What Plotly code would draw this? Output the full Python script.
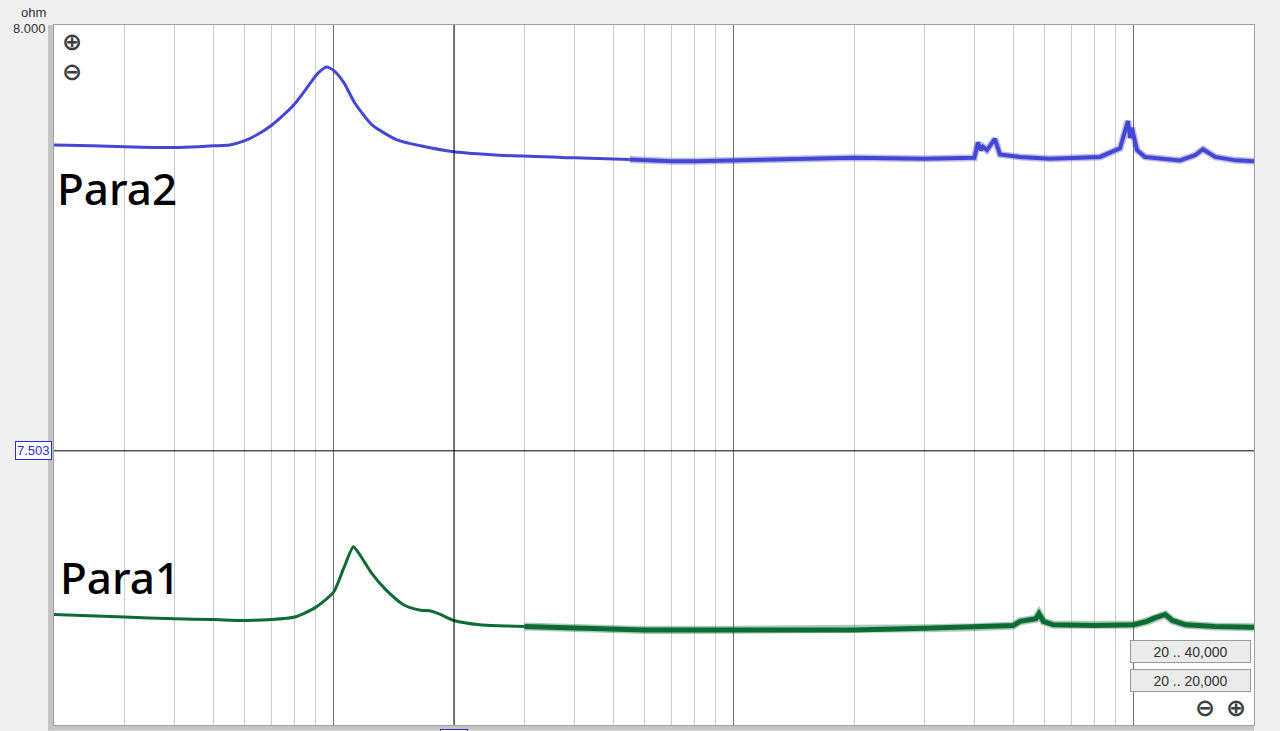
import math
import plotly.graph_objects as go

# ---------------- data ----------------
# Para2 (blue) smooth low-frequency part
para2_smooth_freq = [20, 25, 30, 40, 46, 50, 55, 60, 65, 70, 75, 80, 85, 90, 93, 96, 100,
                     106, 113, 125, 144, 165, 200, 260, 400, 550]
para2_smooth_ohm = [7.860, 7.859, 7.858, 7.857, 7.858, 7.859, 7.860, 7.865, 7.873, 7.883,
                    7.895, 7.908, 7.924, 7.940, 7.947, 7.951, 7.947, 7.933, 7.909, 7.883,
                    7.866, 7.859, 7.852, 7.848, 7.845, 7.843]
# Para2 noisy high-frequency part
para2_noisy_freq = [550, 600, 700, 800, 1000, 1500, 2000, 3000, 4000, 4083, 4150, 4200, 4300,
                    4500, 4634, 5200, 6180, 8240, 9250, 9680, 9800, 9900, 10200, 10680,
                    13060, 14240, 14910, 15990, 18000, 20000]
para2_noisy_ohm = [7.843, 7.842, 7.841, 7.841, 7.842, 7.843, 7.845, 7.844, 7.845, 7.863,
                   7.854, 7.858, 7.854, 7.867, 7.849, 7.846, 7.844, 7.846, 7.856, 7.888,
                   7.868, 7.880, 7.854, 7.846, 7.842, 7.848, 7.855, 7.846, 7.842, 7.841]

# Para1 (green) smooth low-frequency part
para1_smooth_freq = [20, 30, 40, 50, 60, 70, 80, 90, 100, 106, 112, 115, 125, 135, 150, 165,
                     175, 185, 200, 232, 300]
para1_smooth_ohm = [7.312, 7.309, 7.307, 7.306, 7.305, 7.306, 7.309, 7.320, 7.338, 7.366,
                    7.391, 7.385, 7.359, 7.341, 7.323, 7.317, 7.316, 7.312, 7.305, 7.300,
                    7.298]
# Para1 noisy high-frequency part
para1_noisy_freq = [300, 400, 600, 800, 1000, 2000, 3000, 4000, 5000, 5200, 5700, 5800, 5950,
                    6300, 8000, 10000, 10800, 11300, 12000, 12500, 13500, 16000, 20000]
para1_noisy_ohm = [7.298, 7.296, 7.294, 7.294, 7.294, 7.294, 7.296, 7.297, 7.299, 7.304,
                   7.307, 7.313, 7.304, 7.300, 7.299, 7.300, 7.304, 7.308, 7.312, 7.305,
                   7.300, 7.298, 7.297]

freq_range = [20, 20000]
ohm_range = [7.183, 8.000]
decade_ticks = [100, 1000, 10000]
minor_ticks = [30, 40, 50, 60, 70, 80, 90, 200, 300, 400, 500, 600, 700, 800, 900,
               2000, 3000, 4000, 5000, 6000, 7000, 8000, 9000]
cursor_freq = 200
cursor_ohm = 7.503
range_buttons = ["20 .. 40,000", "20 .. 20,000"]

BLUE = "#4646d4"
GREEN = "#0d6b36"

fig = go.Figure()


def add_series(sf, so, nf, no, color, name, noisy_w):
    fig.add_trace(go.Scatter(x=nf, y=no, mode="lines", opacity=0.35,
                             line=dict(color=color, width=noisy_w + 3),
                             hoverinfo="skip", name=name))
    fig.add_trace(go.Scatter(x=nf, y=no, mode="lines",
                             line=dict(color=color, width=noisy_w),
                             hoverinfo="x+y", name=name))
    fig.add_trace(go.Scatter(x=sf, y=so, mode="lines",
                             line=dict(color=color, width=3, shape="spline", smoothing=0.6),
                             hoverinfo="x+y", name=name))


add_series(para2_smooth_freq, para2_smooth_ohm, para2_noisy_freq, para2_noisy_ohm,
           BLUE, "Para2", 4)
add_series(para1_smooth_freq, para1_smooth_ohm, para1_noisy_freq, para1_noisy_ohm,
           GREEN, "Para1", 5)

# cursors
fig.add_shape(type="line", xref="x", yref="paper", x0=cursor_freq, x1=cursor_freq, y0=0, y1=1,
              line=dict(color="black", width=1))
fig.add_shape(type="line", xref="paper", yref="y", x0=0, x1=1, y0=cursor_ohm, y1=cursor_ohm,
              line=dict(color="black", width=1))
# frame shadows
fig.add_shape(type="rect", xref="paper", yref="paper", x0=-0.005, x1=0, y0=-0.008, y1=1,
              fillcolor="#c4c4c4", line=dict(width=0), layer="below")
fig.add_shape(type="rect", xref="paper", yref="paper", x0=-0.005, x1=1, y0=-0.008, y1=0,
              fillcolor="#c4c4c4", line=dict(width=0), layer="below")

icon_font = dict(family="DejaVu Sans", size=24, color="#3c3c3c", weight="bold")
annotations = [
    dict(text="Para2", xref="paper", yref="paper", x=0.001, y=0.767, xanchor="left",
         yanchor="middle", showarrow=False,
         font=dict(family="Noto Sans", size=44, color="black", weight=500)),
    dict(text="Para1", xref="paper", yref="paper", x=0.003, y=0.211, xanchor="left",
         yanchor="middle", showarrow=False,
         font=dict(family="Noto Sans", size=44, color="black", weight=500)),
    dict(text="ohm", xref="paper", yref="paper", x=0, y=1, xanchor="right", yanchor="bottom",
         xshift=-6, yshift=3, showarrow=False,
         font=dict(family="Liberation Sans", size=13, color="#333")),
    dict(text="8.000", xref="paper", yref="paper", x=0, y=1, xanchor="right", yanchor="middle",
         xshift=-6, yshift=-3, showarrow=False,
         font=dict(family="Liberation Sans", size=13, color="#333")),
    dict(text=f"{cursor_ohm:.3f}", xref="paper", yref="y", x=0, y=cursor_ohm, xanchor="right",
         yanchor="middle", xshift=-2, showarrow=False, bgcolor="white", bordercolor="#2a2ad0",
         borderwidth=1, borderpad=1,
         font=dict(family="Liberation Sans", size=13, color="#2a2ad0")),
    # x-cursor readout box, cut off by the bottom edge in the reference
    dict(text=" ", xref="x", yref="paper", x=math.log10(cursor_freq), y=0,
         xanchor="center", yanchor="top", yshift=-4, showarrow=False, bgcolor="white",
         bordercolor="#2a2ad0", borderwidth=1, width=24, height=10,
         font=dict(family="Liberation Sans", size=10, color="#2a2ad0")),
]
for sym, px, py in [("⊕", 0.015, 0.976), ("⊖", 0.015, 0.933),
                    ("⊖", 0.959, 0.024), ("⊕", 0.985, 0.024)]:
    annotations.append(dict(text=sym, xref="paper", yref="paper", x=px, y=py,
                            xanchor="center", yanchor="middle", showarrow=False,
                            font=icon_font))
for label, ypos in zip(range_buttons, [0.1057, 0.064]):
    annotations.append(dict(text=label, xref="paper", yref="paper", x=0.9467, y=ypos,
                            xanchor="center", yanchor="middle",
                            showarrow=False, width=117, height=19, borderpad=1,
                            bgcolor="#ebebeb", bordercolor="#9a9a9a", borderwidth=1,
                            font=dict(family="Liberation Sans", size=14, color="#333")))

fig.update_layout(
    width=1280, height=731,
    margin=dict(l=54, r=26, t=25, b=6),
    paper_bgcolor="#f0f0f0",
    plot_bgcolor="white",
    showlegend=False,
    annotations=annotations,
    xaxis=dict(type="log", range=[math.log10(freq_range[0]), math.log10(freq_range[1])],
               tickmode="array", tickvals=decade_ticks, showticklabels=False, ticks="",
               showgrid=True, gridcolor="#6e6e6e", gridwidth=1, zeroline=False,
               showline=True, linecolor="#a0a0a0", mirror=True,
               minor=dict(tickmode="array", tickvals=minor_ticks, showgrid=True,
                          gridcolor="#cccccc", gridwidth=1, ticks="")),
    yaxis=dict(range=ohm_range, showticklabels=False, ticks="", showgrid=False,
               zeroline=False, showline=True, linecolor="#a0a0a0", mirror=True),
)

fig.write_html("out.html", config={"displayModeBar": False},
               post_script="document.body.style.margin='0';document.body.style.overflow='hidden';")
